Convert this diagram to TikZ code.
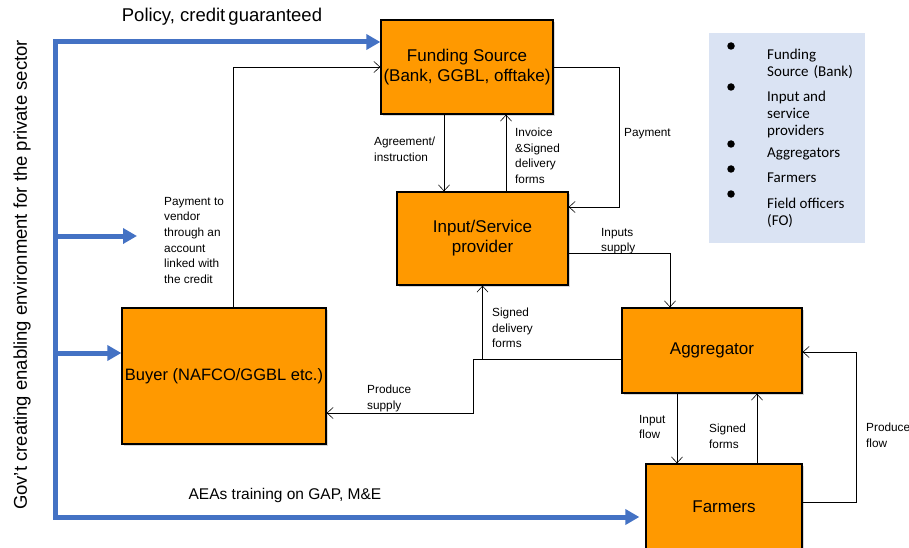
\documentclass[tikz,border=0pt]{standalone}
\usepackage{fontspec}
\setmainfont{Liberation Sans}
\newfontfamily\legendfont{Carlito}
\usetikzlibrary{positioning,arrows.meta,shadows}
\definecolor{boxorange}{RGB}{255,153,0}
\definecolor{govblue}{RGB}{68,114,196}
\definecolor{legendblue}{RGB}{218,227,243}

\begin{document}
\begin{tikzpicture}[x=1pt,y=-1pt,
  box/.style={rectangle,draw,line width=1.3pt,fill=boxorange,align=center,font=\fontsize{17}{20}\selectfont,drop shadow={shadow xshift=2pt,shadow yshift=-2pt,opacity=.5,fill=black!30}},
  lbl/.style={anchor=north west,inner sep=0pt,align=left,font=\fontsize{11.8}{15.6}\selectfont},
  leg/.style={anchor=north west,inner sep=0pt,align=left,font=\legendfont\fontsize{15}{16.8}\selectfont},
  flow/.style={-{Straight Barb[length=6pt,width=11pt]},semithick},
  gov/.style={-{Triangle[length=14pt,width=15pt]},line width=5pt,govblue},
  dot/.style={circle,fill,inner sep=0pt,minimum size=7.5pt}]
\useasboundingbox (0,0) rectangle (909,548);

% actors
\node[box,minimum width=172pt,minimum height=94pt,inner sep=0pt] (fund) at (467,67) {Funding Source\\(Bank, GGBL, offtake)};
\node[box,minimum width=171pt,minimum height=93pt] (inp) at (482.5,238.5) {Input/Service\\provider};
\node[box,minimum width=204pt,minimum height=136pt,inner sep=0pt,font=\fontsize{16.5}{20}\selectfont] (buyer) at (224,376) {Buyer (NAFCO/GGBL etc.)};
\node[box,minimum width=180pt,minimum height=85pt] (agg) at (712,350.5) {Aggregator};
\node[box,minimum width=156pt,minimum height=86pt] (farm) at (724,507) {Farmers};

% legend
\node[rectangle,fill=legendblue,minimum width=156pt,minimum height=210pt,inner sep=0pt] (legend) at (787,138) {};
\node[dot] (dot1) at (731,46) {};
\node[leg] (leg1) at (767,49) {Funding\\Source\,\,(Bank)};
\node[dot] (dot2) at (731,87) {};
\node[leg] (leg2) at (767,91) {Input and\\service\\providers};
\node[dot] (dot3) at (731,144) {};
\node[leg] (leg3) at (767,148) {Aggregators};
\node[dot] (dot4) at (731,169) {};
\node[leg] (leg4) at (767,173) {Farmers};
\node[dot] (dot5) at (731,194) {};
\node[leg] (leg5) at (767,198) {Field officers\\(FO)};

% government support
\coordinate (gtop) at (55,42);
\coordinate (gbot) at (55,517);
\coordinate (gmid) at (55,236);
\coordinate (gmidend) at (137,236);
\coordinate (gbuy) at (55,353);
\draw[govblue,line width=5pt,line cap=rect] (gtop) -- (gbot);
\draw[gov] (gtop) -- ([yshift=25pt]fund.west);
\draw[gov] (gmid) -- (gmidend);
\draw[gov] (gbuy) -- ([yshift=23pt]buyer.west);
\draw[gov,shorten >=6pt] (gbot) -- ([yshift=-10pt]farm.west);
\node[rotate=90,font=\fontsize{18.5}{20}\selectfont] (govtxt) at (22,275) {Gov’t creating enabling environment for the private sector};
\node[font=\fontsize{18.5}{20}\selectfont] (policy) at (222,17) {Policy, credit\,guaranteed};
\node[font=\fontsize{15.5}{20}\selectfont] (aeas) at (285,495) {AEAs training on GAP, M\&E};

% flows
\draw[flow] ([xshift=9pt]buyer.north) |- (fund.west);
\node[lbl] (paytxt) at (164,197) {Payment to\\vendor\\through an\\account\\linked with\\the credit};

\draw[flow] ([xshift=-23pt]fund.south) -- ([xshift=-38.5pt]inp.north);
\node[lbl] (agrtxt) at (374,137) {Agreement/\\instruction};

\draw[flow] ([xshift=23.5pt]inp.north) -- ([xshift=39pt]fund.south);
\node[lbl] (invtxt) at (515,128) {Invoice\\\&Signed\\delivery\\forms};

\draw[flow] (fund.east) -- ++(66,0) |- ([yshift=31.5pt]inp.east);
\node[lbl] (paymtxt) at (624,128) {Payment};

\draw[flow] ([yshift=-14.5pt]inp.east) -| ([xshift=-42pt]agg.north);
\node[lbl] (suptxt) at (601,228) {Inputs\\supply};

\draw[flow] ([yshift=-8.5pt]agg.west) -| (inp.south);
\node[lbl] (sdftxt) at (492,308) {Signed\\delivery\\forms};

\draw[flow] ([yshift=-8.5pt]agg.west) -- ++(-148,0) |- ([yshift=-37pt]buyer.east);
\node[lbl] (prodtxt) at (367,385) {Produce\\supply};

\draw[flow] ([xshift=-35pt]agg.south) -- ([xshift=-47pt]farm.north);
\node[lbl] (inftxt) at (639,415) {Input\\flow};

\draw[flow] ([xshift=33pt]farm.north) -- ([xshift=45pt]agg.south);
\node[lbl] (sftxt) at (709,424) {Signed\\forms};

\draw[flow] ([yshift=5pt]farm.east) -- ++(54,0) |- ([yshift=-1.5pt]agg.east);
\node[lbl] (pftxt) at (866,423) {Produce\\flow};
\end{tikzpicture}
\end{document}
